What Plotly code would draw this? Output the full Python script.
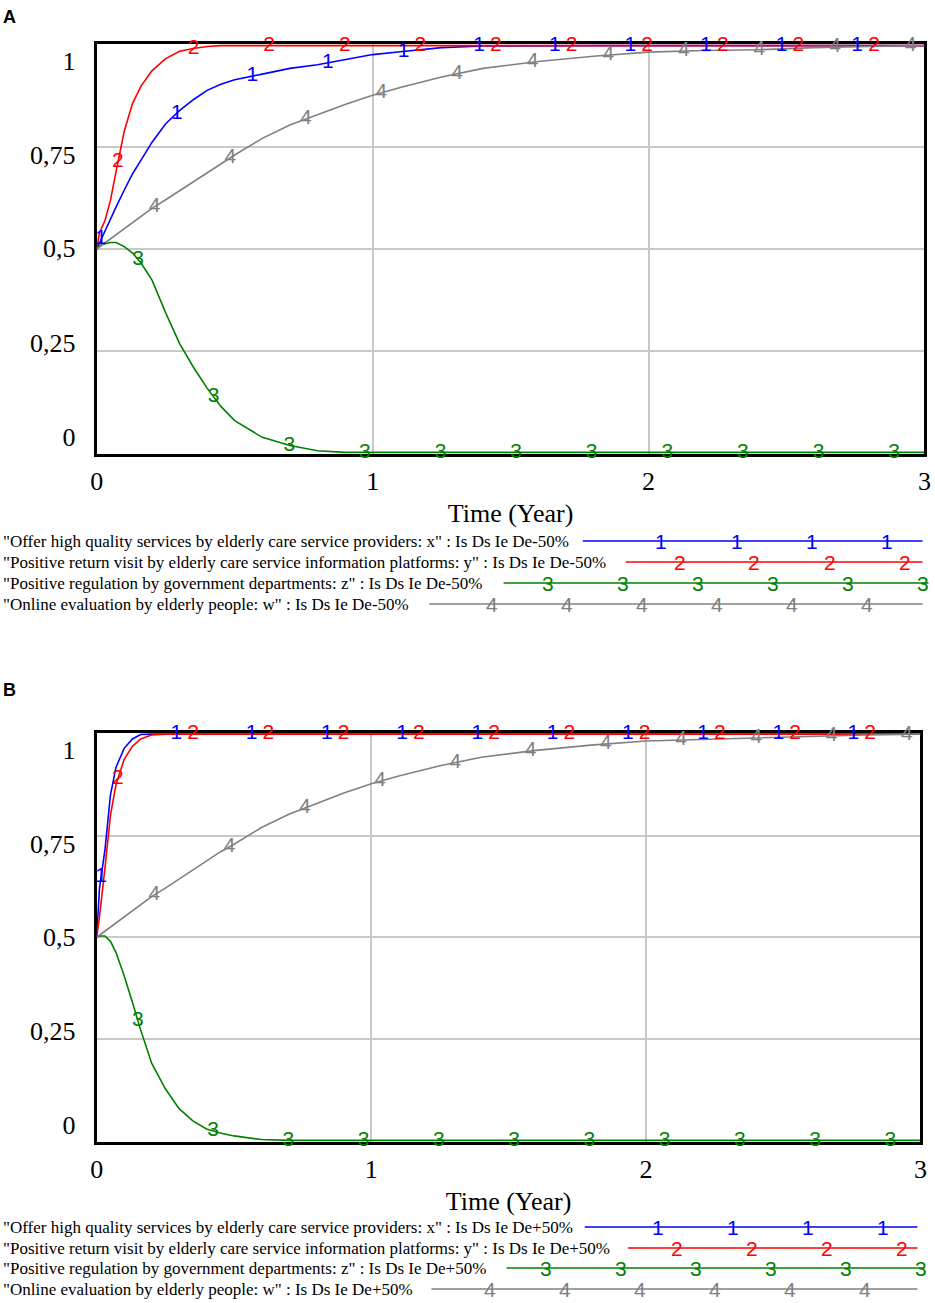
import numpy as np
import plotly.graph_objects as go

# time grid (years) and values
time = [0, 0.01, 0.03, 0.05, 0.07, 0.1, 0.13, 0.16, 0.2, 0.25, 0.3, 0.35, 0.4, 0.45, 0.5,
        0.6, 0.7, 0.8, 0.9, 1.0, 1.1, 1.25, 1.4, 1.6, 1.8, 2.0, 2.2, 2.4, 2.6, 2.8, 3.0]

# panel A: Is Ds Ie De-50%
a_x = [0.5, 0.515, 0.545, 0.572, 0.603, 0.645, 0.685, 0.718, 0.762, 0.808, 0.84, 0.867, 0.89, 0.905, 0.916,
       0.93, 0.944, 0.953, 0.965, 0.978, 0.985, 0.995, 0.999, 1, 1, 1, 1, 1, 1, 1, 1]
a_y = [0.5, 0.54, 0.57, 0.62, 0.69, 0.79, 0.858, 0.9, 0.938, 0.968, 0.986, 0.993, 0.998, 1, 1,
       1, 1, 1, 1, 1, 1, 1, 1, 1, 1, 1, 1, 1, 1, 1, 1]
a_z = [0.5, 0.508, 0.513, 0.516, 0.516, 0.506, 0.49, 0.466, 0.424, 0.343, 0.268, 0.21, 0.158, 0.113, 0.078,
       0.037, 0.017, 0.004, 0, 0, 0, 0, 0, 0, 0, 0, 0, 0, 0, 0, 0]
a_w = [0.5, 0.505, 0.515, 0.525, 0.535, 0.551, 0.566, 0.582, 0.6, 0.621, 0.643, 0.664, 0.688, 0.71, 0.731,
       0.772, 0.805, 0.83, 0.855, 0.878, 0.897, 0.923, 0.944, 0.961, 0.974, 0.984, 0.988, 0.99, 0.995, 0.998, 1]

# panel B: Is Ds Ie De+50%
b_x = [0.5, 0.62, 0.715, 0.85, 0.918, 0.965, 0.988, 0.999, 1, 1, 1, 1, 1, 1, 1,
       1, 1, 1, 1, 1, 1, 1, 1, 1, 1, 1, 1, 1, 1, 1, 1]
b_y = [0.5, 0.55, 0.67, 0.8, 0.875, 0.938, 0.97, 0.988, 0.998, 1, 1, 1, 1, 1, 1,
       1, 1, 1, 1, 1, 1, 1, 1, 1, 1, 1, 1, 1, 1, 1, 1]
b_z = [0.5, 0.503, 0.503, 0.49, 0.463, 0.405, 0.34, 0.272, 0.19, 0.127, 0.078, 0.048, 0.028, 0.018, 0.011,
       0.002, 0, 0, 0, 0, 0, 0, 0, 0, 0, 0, 0, 0, 0, 0, 0]
b_w = [0.5, 0.505, 0.515, 0.525, 0.535, 0.551, 0.566, 0.582, 0.6, 0.621, 0.643, 0.664, 0.688, 0.71, 0.729,
       0.77, 0.803, 0.829, 0.855, 0.878, 0.897, 0.922, 0.943, 0.96, 0.973, 0.983, 0.987, 0.99, 0.995, 0.998, 1]

legend_names = [
    '"Offer high quality services by elderly care service providers: x" : Is Ds Ie De{}',
    '"Positive return visit by elderly care service information platforms: y" : Is Ds Ie De{}',
    '"Positive regulation by government departments: z" : Is Ds Ie De{}',
    '"Online evaluation by elderly people: w" : Is Ds Ie De{}',
]
scenarios = ["-50%", "+50%"]
series_labels = ["1", "2", "3", "4"]
colors = ["#0000FF", "#FF0000", "#008000", "#808080"]

W, H = 935, 1303
SERIF = "Liberation Serif"
SANS = "Liberation Sans"

# the photographed page comes out squeezed a little horizontally, undo that
SQUEEZE = 0.984


def px(x):
    return (W / 2 + (x - W / 2) / SQUEEZE) / W


def py(y):
    return 1 - y / H


fig = go.Figure()

panels = [
    dict(data=[a_x, a_y, a_z, a_w], xa="x", ya="y", letter="A", letter_y=17,
         rows=[541, 562, 583, 604], starts=[583, 626, 504, 430], ends=[922, 922, 928, 922],
         marks=[[661, 737, 812, 887], [680, 754, 830, 905],
                [548, 623, 698, 773, 848, 923], [492, 567, 642, 717, 792, 867]]),
    dict(data=[b_x, b_y, b_z, b_w], xa="x2", ya="y2", letter="B", letter_y=690,
         rows=[1227, 1248, 1268, 1289], starts=[585, 628, 507, 432], ends=[917, 917, 924, 917],
         marks=[[658, 733, 808, 883], [677, 752, 827, 902],
                [546, 621, 696, 771, 846, 921], [490, 565, 640, 715, 790, 865]]),
]

# where the number labels start on each curve (Vensim staggers them)
label_offsets = [0.016, 0.077, 0.15, 0.21]
label_step = 0.274

shapes = []
annotations = []
for p_i, p in enumerate(panels):
    for s_i, vals in enumerate(p["data"]):
        fig.add_trace(go.Scatter(
            x=time, y=vals, mode="lines", xaxis=p["xa"], yaxis=p["ya"],
            line=dict(color=colors[s_i], width=1.6), showlegend=False, hoverinfo="skip"))
    for s_i, vals in enumerate(p["data"]):
        lt = np.arange(label_offsets[s_i], 3.0, label_step)
        fig.add_trace(go.Scatter(
            x=lt, y=np.interp(lt, time, vals), mode="text", xaxis=p["xa"], yaxis=p["ya"],
            text=[series_labels[s_i]] * len(lt), textposition="middle center",
            textfont=dict(family=SANS, size=21, color=colors[s_i]),
            cliponaxis=False, showlegend=False, hoverinfo="skip"))

    annotations.append(dict(text="<b>" + p["letter"] + "</b>", xref="paper", yref="paper",
                            x=px(2), y=py(p["letter_y"]), xanchor="left", yanchor="middle",
                            showarrow=False, font=dict(family=SANS, size=18, color="black")))
    for r in range(4):
        annotations.append(dict(text=legend_names[r].format(scenarios[p_i]), xref="paper", yref="paper",
                                x=px(2), y=py(p["rows"][r]), xanchor="left", yanchor="middle",
                                showarrow=False, font=dict(family=SERIF, size=17, color="black")))
        shapes.append(dict(type="line", xref="paper", yref="paper",
                           x0=px(p["starts"][r]), x1=px(p["ends"][r]),
                           y0=py(p["rows"][r]), y1=py(p["rows"][r]),
                           line=dict(color=colors[r], width=1.6)))
        for m in p["marks"][r]:
            annotations.append(dict(text=series_labels[r], xref="paper", yref="paper",
                                    x=px(m), y=py(p["rows"][r]), xanchor="center", yanchor="middle",
                                    showarrow=False,
                                    font=dict(family=SANS, size=21, color=colors[r])))

xax = dict(range=[0, 3], tickvals=[0, 1, 2, 3], ticktext=["0", "1", "2", "3"],
           showgrid=True, gridcolor="#c8c8c8", gridwidth=1.5, zeroline=False,
           showline=True, linecolor="black", linewidth=3, mirror=True, layer="below traces",
           ticks="", ticklabelstandoff=2,
           tickfont=dict(family=SERIF, size=26, color="black"),
           title=dict(text="Time (Year)", font=dict(family=SERIF, size=26, color="black"), standoff=9))
yax = dict(range=[-0.004, 1.004], tickvals=[0.037, 0.27, 0.502, 0.731, 0.962],
           ticktext=["0", "0,25", "0,5", "0,75", "1"], showgrid=False, zeroline=False,
           showline=True, linecolor="black", linewidth=3, mirror=True, layer="below traces",
           ticks="", ticklabelstandoff=13,
           tickfont=dict(family=SERIF, size=26, color="black"),
           minor=dict(tickmode="array", tickvals=[0.25, 0.5, 0.75], showgrid=True,
                      gridcolor="#c8c8c8", gridwidth=1.5, ticks=""))

fig.update_layout(
    width=W, height=H, margin=dict(l=0, r=0, t=0, b=0),
    paper_bgcolor="white", plot_bgcolor="white", showlegend=False,
    xaxis=dict(xax, domain=[px(98), px(924)], anchor="y"),
    yaxis=dict(yax, domain=[py(454), py(44)], anchor="x"),
    xaxis2=dict(xax, domain=[px(98), px(920)], anchor="y2"),
    yaxis2=dict(yax, domain=[py(1142), py(732.5)], anchor="x2"),
    shapes=shapes, annotations=annotations,
)

# page without body margin so the figure sits at the window's top-left corner
fig.write_html("out.html", config={"displayModeBar": False},
               post_script="document.body.style.margin='0';document.body.style.overflow='hidden';")
